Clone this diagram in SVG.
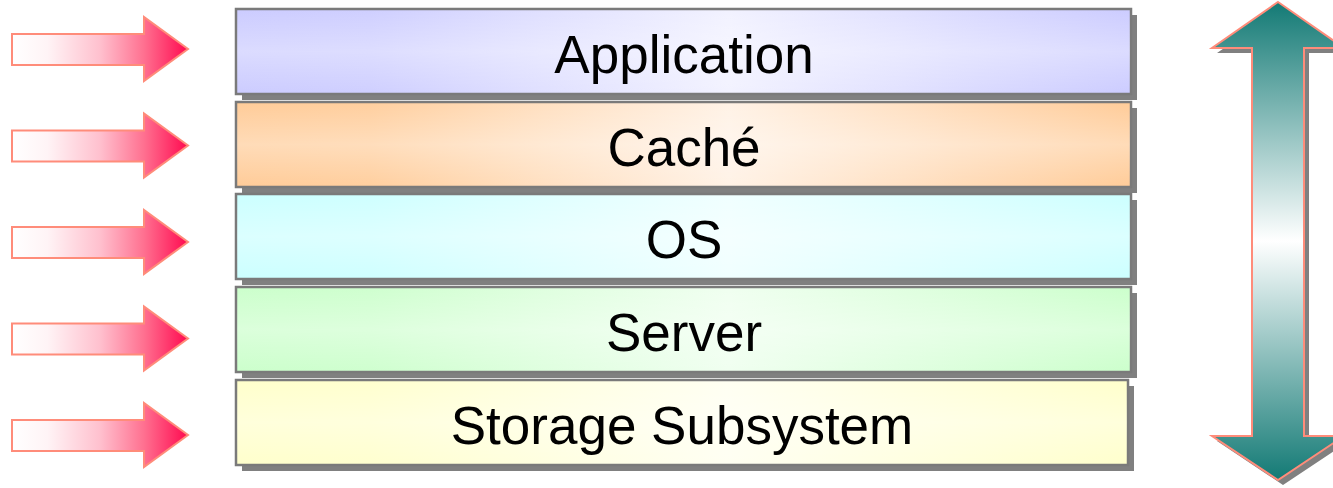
<svg xmlns="http://www.w3.org/2000/svg" width="1333" height="488" viewBox="0 0 1333 488">
<defs>
<linearGradient id="gApp" x1="0" y1="0" x2="1" y2="0"><stop offset="0" stop-color="#CCCCFF"/><stop offset="0.15" stop-color="#CFCFFF"/><stop offset="0.55" stop-color="#F2F2FF"/><stop offset="0.85" stop-color="#D8D8FF"/><stop offset="1" stop-color="#CCCCFF"/></linearGradient>
<linearGradient id="gCache" x1="0" y1="0" x2="1" y2="0"><stop offset="0" stop-color="#FFCC99"/><stop offset="0.15" stop-color="#FFCF9F"/><stop offset="0.55" stop-color="#FFF2E6"/><stop offset="0.85" stop-color="#FFD8B2"/><stop offset="1" stop-color="#FFCC99"/></linearGradient>
<linearGradient id="gOS" x1="0" y1="0" x2="1" y2="0"><stop offset="0" stop-color="#CCFFFF"/><stop offset="0.15" stop-color="#CFFFFF"/><stop offset="0.55" stop-color="#F0FFFF"/><stop offset="0.85" stop-color="#D8FFFF"/><stop offset="1" stop-color="#CCFFFF"/></linearGradient>
<linearGradient id="gSrv" x1="0" y1="0" x2="1" y2="0"><stop offset="0" stop-color="#CCFFCC"/><stop offset="0.15" stop-color="#CFFFCF"/><stop offset="0.55" stop-color="#F0FFF0"/><stop offset="0.85" stop-color="#D8FFD8"/><stop offset="1" stop-color="#CCFFCC"/></linearGradient>
<linearGradient id="gSto" x1="0" y1="0" x2="1" y2="0"><stop offset="0" stop-color="#FFFFCC"/><stop offset="0.15" stop-color="#FFFFCF"/><stop offset="0.55" stop-color="#FFFFF2"/><stop offset="0.85" stop-color="#FFFFD8"/><stop offset="1" stop-color="#FFFFCC"/></linearGradient>
<linearGradient id="gHi" x1="0" y1="0" x2="0" y2="1"><stop offset="0" stop-color="#FFFFFF" stop-opacity="0"/><stop offset="0.5" stop-color="#FFFFFF" stop-opacity="0.3"/><stop offset="1" stop-color="#FFFFFF" stop-opacity="0"/></linearGradient>
<linearGradient id="gArrow" x1="12" y1="0" x2="188" y2="0" gradientUnits="userSpaceOnUse"><stop offset="0" stop-color="#FFFFFF"/><stop offset="0.2" stop-color="#FFF4F6"/><stop offset="0.5" stop-color="#FFC0CE"/><stop offset="0.75" stop-color="#FF7090"/><stop offset="1" stop-color="#FF0A50"/></linearGradient>
<linearGradient id="gDbl" x1="0" y1="2" x2="0" y2="480" gradientUnits="userSpaceOnUse"><stop offset="0" stop-color="#137A75"/><stop offset="0.5" stop-color="#FFFFFF"/><stop offset="1" stop-color="#137A75"/></linearGradient>
<path id="rarrow" d="M12,34 H144 V17 L188,49 L144,81 V65 H12 Z"/>
</defs>
<style>
.box{stroke:#7A7A7A;stroke-width:2.5}
.shadow{fill:#808080}
.lbl{font-family:"Liberation Sans",Arial,sans-serif;font-size:53px;fill:#000;text-anchor:middle}
.arr{fill:url(#gArrow);stroke:#FF8C7A;stroke-width:2;stroke-linejoin:miter}
</style>
<g id="side-arrows">
<use href="#rarrow" class="arr"/>
<use href="#rarrow" class="arr" y="96.5"/>
<use href="#rarrow" class="arr" y="193"/>
<use href="#rarrow" class="arr" y="289.5"/>
<use href="#rarrow" class="arr" y="386"/>
</g>
<g id="application">
<rect class="shadow" x="242" y="15" width="895" height="85"/>
<rect class="box" x="236" y="9" width="895" height="85" fill="url(#gApp)"/>
<rect x="237" y="10" width="893" height="83" fill="url(#gHi)"/>
<text class="lbl" x="684" y="73">Application</text>
</g>
<g id="cache">
<rect class="shadow" x="242" y="108" width="895" height="85"/>
<rect class="box" x="236" y="102" width="895" height="85" fill="url(#gCache)"/>
<rect x="237" y="103" width="893" height="83" fill="url(#gHi)"/>
<text class="lbl" x="684" y="166">Caché</text>
</g>
<g id="os">
<rect class="shadow" x="242" y="200" width="895" height="85"/>
<rect class="box" x="236" y="194" width="895" height="85" fill="url(#gOS)"/>
<rect x="237" y="195" width="893" height="83" fill="url(#gHi)"/>
<text class="lbl" x="684" y="258">OS</text>
</g>
<g id="server">
<rect class="shadow" x="242" y="293" width="895" height="85"/>
<rect class="box" x="236" y="287" width="895" height="85" fill="url(#gSrv)"/>
<rect x="237" y="288" width="893" height="83" fill="url(#gHi)"/>
<text class="lbl" x="684" y="351">Server</text>
</g>
<g id="storage">
<rect class="shadow" x="242" y="386" width="892" height="85"/>
<rect class="box" x="236" y="380" width="892" height="85" fill="url(#gSto)"/>
<rect x="237" y="381" width="890" height="83" fill="url(#gHi)"/>
<text class="lbl" x="682" y="444">Storage Subsystem</text>
</g>
<g id="double-arrow">
<path d="M1283,7 L1349,53 H1309 V441 H1349 L1283,485 L1217,441 H1257 V53 H1217 Z" fill="#808080"/>
<path d="M1278,2 L1344,48 H1304 V436 H1344 L1278,480 L1212,436 H1252 V48 H1212 Z" fill="url(#gDbl)" stroke="#FF8C7A" stroke-width="2"/>
</g>
</svg>
